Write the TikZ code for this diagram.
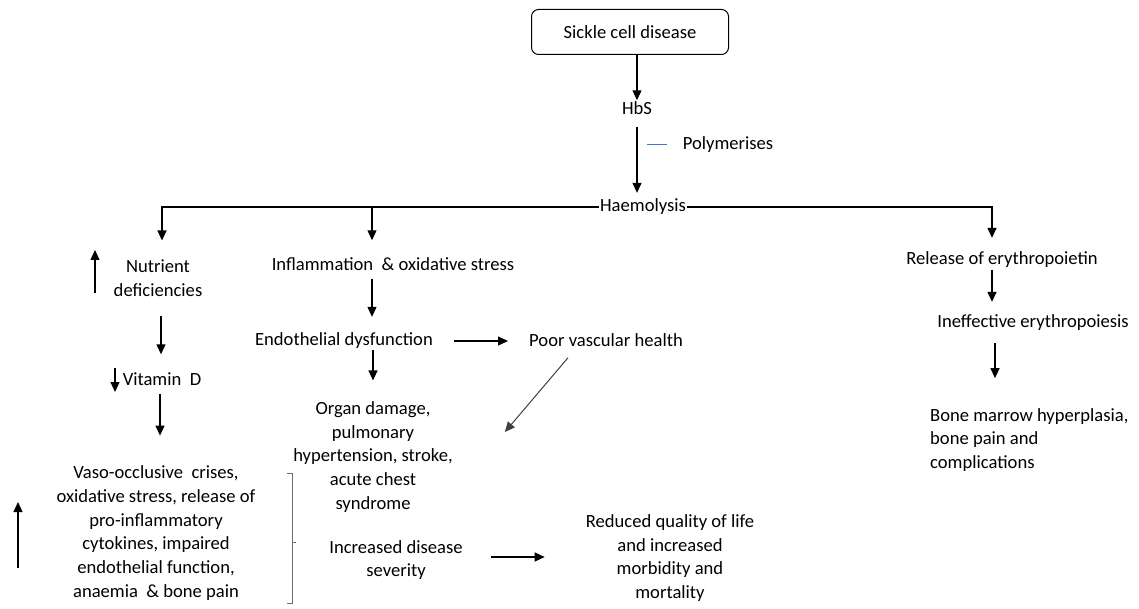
\documentclass[tikz,border=0pt]{standalone}
\usepackage{fontspec}
\setmainfont{Carlito}
\usetikzlibrary{arrows.meta,positioning}

\definecolor{polyblau}{RGB}{68,114,196}
\definecolor{klammergrau}{RGB}{110,110,110}

\tikzset{
	txt/.style={inner sep=1pt, align=center, font=\fontsize{18.6}{23.7}\selectfont},
	kasten/.style={txt, draw, line width=1pt, rounded corners=7pt, minimum width=197pt, minimum height=45pt},
	pfeil/.style={line width=1.2pt, -{Triangle[length=10pt,width=9pt]}},
	linie/.style={line width=1.2pt}
}

\begin{document}
\begin{tikzpicture}[x=1pt, y=-1pt]
	\useasboundingbox (0,0) rectangle (1139,609);

	% Ursprung oben
	\node[kasten] (scd) at (630,32) {Sickle cell disease};
	\node[txt] (hbs) at (637,108) {HbS};
	\node[txt] (poly) at (728,145) {Polymerises};
	\node[txt] (haem) at (643,207) {Haemolysis};
	\draw[pfeil] (scd.south -| hbs) -- (hbs.north);
	\draw[pfeil, shorten <=11pt, shorten >=5pt] (hbs.south) -- (hbs.south |- haem.north);
	\draw[polyblau, line width=0.8pt] (647,144) -- (667,144);

	% linker Zweig
	\node[txt] (nutr) at (158,278) {Nutrient\\deficiencies};
	\node[txt] (vitd) at (162,379) {Vitamin~ D};
	\node[txt] (vaso) at (156,533) {Vaso-occlusive~ crises,\\oxidative stress, release of\\pro-inflammatory\\cytokines, impaired\\endothelial function,\\anaemia~ \& bone pain};
	\coordinate (hochnutr) at (95,293);
	\coordinate (runtervitd) at (115,368);
	\coordinate (hochvaso) at (18,568);
	\draw[pfeil] (hochnutr) -- ++(0,-43);
	\draw[pfeil] (runtervitd) -- ++(0,24);
	\draw[pfeil] (hochvaso) -- ++(0,-66);
	\draw[pfeil, shorten <=18pt, shorten >=17pt] ([xshift=3pt]nutr.south) -- ([xshift=3pt]nutr.south |- vitd.north);
	\draw[pfeil, shorten <=7pt, shorten >=29pt] ([xshift=-2pt]vitd.south) -- ([xshift=-2pt]vitd.south |- vaso.north);
	% Klammer
	\draw[klammergrau, line width=0.8pt] (287,473) -- (292,473) -- (292,603) -- (287,603);
	\draw[klammergrau, line width=0.8pt] (292,542) -- (296,542);

	% mittlerer Zweig
	\node[txt] (infl) at (393,264) {Inflammation~ \& oxidative stress};
	\node[txt] (endo) at (344,341) {Endothelial dysfunction};
	\node[txt] (poor) at (606,340) {Poor vascular health};
	\node[txt] (organ) at (373,457) {Organ damage,\\pulmonary\\hypertension, stroke,\\acute chest\\syndrome};
	\node[txt] (sev) at (396,560) {Increased disease\\severity};
	\node[txt] (qol) at (670,558) {Reduced quality of life\\and increased\\morbidity and\\mortality};
	\draw[pfeil, shorten <=7pt, shorten >=15pt] ([xshift=-21pt]infl.south) -- ([xshift=-21pt]infl.south |- endo.north);
	\draw[pfeil, shorten >=20pt] (endo.south -| organ) -- (organ.north);
	\draw[pfeil, shorten <=20pt, shorten >=20pt] (endo.east) -- (endo.east -| poor.west);
	\draw[pfeil, draw=black!75, line width=1pt] ([xshift=-38pt, yshift=-10pt]poor.south) -- ([xshift=51pt, yshift=25pt]organ.east);
	\draw[pfeil, shorten <=27pt, shorten >=40pt] ([yshift=3pt]sev.east) -- ([yshift=3pt]sev.east -| qol.west);

	% rechter Zweig
	\node[txt] (epo) at (1002,260) {Release of erythropoietin};
	\node[txt] (ineff) at (1033,323) {Ineffective erythropoiesis};
	\node[txt, align=left, anchor=west] (bone) at (929,440) {Bone marrow hyperplasia,\\bone pain and\\complications};
	\draw[pfeil, shorten <=1pt, shorten >=12pt] ([xshift=-10pt]epo.south) -- ([xshift=-10pt]epo.south |- ineff.north);
	\draw[pfeil, shorten <=11pt, shorten >=29pt] ([xshift=-38pt]ineff.south) -- ([xshift=-38pt]ineff.south |- bone.north);

	% Verzweigung Haemolysis
	\draw[pfeil, shorten >=18pt] (haem.west) -| ([xshift=4pt]nutr.north);
	\draw[pfeil, shorten >=16pt] (haem.west -| infl.north) ++(-21pt,0) -- ([xshift=-21pt]infl.north);
	\draw[pfeil, shorten >=13pt] (haem.east) -| ([xshift=-10pt]epo.north);
\end{tikzpicture}
\end{document}
